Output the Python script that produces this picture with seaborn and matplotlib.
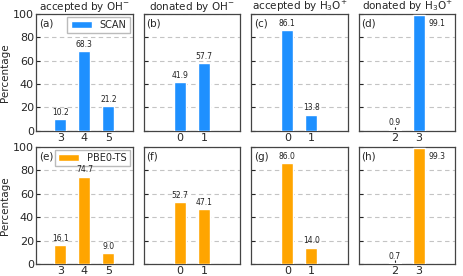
import matplotlib
matplotlib.use("Agg")
import matplotlib.pyplot as plt
import pandas as pd
import seaborn as sns

# hydrogen-bond counts (x categories) per panel
cats_acc_oh = [3, 4, 5]
cats_don_oh = [0, 1]
cats_acc_h3o = [0, 1]
cats_don_h3o = [2, 3]

scan_acc_oh = [10.2, 68.3, 21.2]
scan_don_oh = [41.9, 57.7]
scan_acc_h3o = [86.1, 13.8]
scan_don_h3o = [0.9, 99.1]

pbe_acc_oh = [16.1, 74.7, 9.0]
pbe_don_oh = [52.7, 47.1]
pbe_acc_h3o = [86.0, 14.0]
pbe_don_h3o = [0.7, 99.3]

titles = ["accepted by OH$^{-}$", "donated by OH$^{-}$",
          "accepted by H$_3$O$^{+}$", "donated by H$_3$O$^{+}$"]
methods = ["SCAN", "PBE0-TS"]
colors = ["#1E90FF", "#FFA500"]
letters = ["(a)", "(b)", "(c)", "(d)", "(e)", "(f)", "(g)", "(h)"]

sns.set_theme(style="ticks")
plt.rcParams["font.family"] = ["DejaVu Sans"]
plt.rcParams["xtick.direction"] = "in"
plt.rcParams["ytick.direction"] = "in"

cats = [cats_acc_oh, cats_don_oh, cats_acc_h3o, cats_don_h3o]
values = [
    [scan_acc_oh, scan_don_oh, scan_acc_h3o, scan_don_h3o],
    [pbe_acc_oh, pbe_don_oh, pbe_acc_h3o, pbe_don_h3o],
]
xlims = [(2, 6), (-1.5, 2.5), (-1.5, 2.5), (0.5, 4.5)]

fig, axes = plt.subplots(2, 4, figsize=(4.63, 2.76), dpi=100, sharey=True)
fig.subplots_adjust(left=0.078, right=0.983, top=0.949, bottom=0.044,
                    wspace=0.115, hspace=0.14)

for r in range(2):
    for c in range(4):
        ax = axes[r, c]
        df = pd.DataFrame({"n": cats[c], "pct": values[r][c]})
        sns.barplot(data=df, x="n", y="pct", native_scale=True, width=0.5,
                    color=colors[r], saturation=1, ax=ax,
                    label=methods[r] if c == 0 else None, zorder=3)
        for x, v in zip(cats[c], values[r][c]):
            if v > 95:
                ax.text(x + 0.75, v - 7, f"{v:.1f}", ha="center", va="center",
                        fontsize=5.5, color="#222222", zorder=6)
            else:
                ax.text(x, v + 2, f"{v:.1f}", ha="center", va="bottom",
                        fontsize=5.5, color="#222222", zorder=6)
        ax.set_xlim(*xlims[c])
        ax.set_ylim(0, 100)
        ax.set_xticks(cats[c])
        ax.set_xticklabels([str(k) for k in cats[c]])
        ax.set_yticks([0, 20, 40, 60, 80, 100])
        ax.yaxis.grid(True, linestyle=(0, (4, 3)), color="#c4c4c4", linewidth=0.8, zorder=0)
        ax.set_axisbelow(True)
        ax.set_xlabel("")
        ax.set_ylabel("Percentage" if c == 0 else "", fontsize=7.5, labelpad=2)
        ax.tick_params(labelsize=8, length=3, width=0.8, pad=1.5)
        for s in ax.spines.values():
            s.set_color("#444444")
            s.set_linewidth(0.9)
        ax.text(0.03, 0.96, letters[r * 4 + c], transform=ax.transAxes,
                ha="left", va="top", fontsize=7.5)
        if r == 0:
            ax.set_title(titles[c], fontsize=7.5, pad=2)
        if c == 0:
            ax.legend(loc="upper right", fontsize=7, handlelength=2.2,
                      borderpad=0.35, framealpha=1, edgecolor="#bbbbbb",
                      fancybox=False, borderaxespad=0.25)

plt.savefig("out.png", dpi=100)
plt.close()
